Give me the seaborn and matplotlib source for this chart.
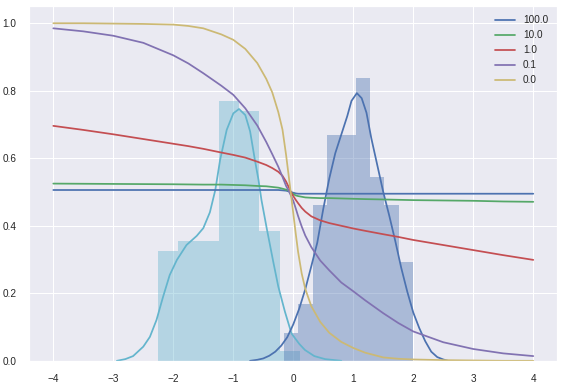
import matplotlib
matplotlib.use('Agg')
import matplotlib.pyplot as plt
import seaborn as sns

# probability curves for each C value at these x positions
x_grid = [-4, -3.5, -3, -2.5, -2, -1.75, -1.5, -1.2, -1.0, -0.8, -0.6, -0.45,
          -0.35, -0.25, -0.18, -0.12, -0.08, -0.04, 0.0, 0.04, 0.08, 0.14, 0.2,
          0.3, 0.45, 0.6, 0.8, 1.0, 1.2, 1.5, 1.75, 2.0, 2.5, 3.0, 3.5, 4.0]
p_c100 = [0.506, 0.506, 0.506, 0.506, 0.506, 0.506, 0.506, 0.506, 0.506, 0.506,
          0.506, 0.506, 0.506, 0.506, 0.505, 0.504, 0.502, 0.500, 0.498, 0.496,
          0.495, 0.495, 0.495, 0.495, 0.495, 0.495, 0.495, 0.495, 0.495, 0.495,
          0.495, 0.495, 0.495, 0.495, 0.495, 0.495]
p_c10 = [0.525, 0.5245, 0.524, 0.5235, 0.523, 0.5225, 0.522, 0.522, 0.521, 0.520,
         0.518, 0.517, 0.515, 0.513, 0.510, 0.507, 0.504, 0.500, 0.494, 0.490,
         0.488, 0.486, 0.484, 0.483, 0.482, 0.482, 0.481, 0.480, 0.479, 0.478,
         0.477, 0.476, 0.475, 0.474, 0.472, 0.471]
p_c1 = [0.696, 0.684, 0.671, 0.657, 0.643, 0.636, 0.628, 0.617, 0.610, 0.602,
        0.590, 0.580, 0.571, 0.560, 0.548, 0.531, 0.516, 0.500, 0.488, 0.477,
        0.467, 0.453, 0.442, 0.428, 0.416, 0.408, 0.400, 0.392, 0.385, 0.375,
        0.367, 0.358, 0.343, 0.328, 0.313, 0.299]
p_c01 = [0.985, 0.976, 0.963, 0.942, 0.905, 0.881, 0.852, 0.815, 0.788, 0.748,
         0.697, 0.648, 0.612, 0.575, 0.545, 0.518, 0.505, 0.490, 0.474, 0.452,
         0.429, 0.398, 0.371, 0.337, 0.297, 0.268, 0.232, 0.206, 0.179, 0.141,
         0.112, 0.087, 0.055, 0.035, 0.022, 0.014]
p_c0 = [1.0, 1.0, 0.999, 0.998, 0.996, 0.992, 0.985, 0.967, 0.951, 0.924,
        0.882, 0.835, 0.795, 0.737, 0.685, 0.610, 0.553, 0.495, 0.437, 0.378,
        0.323, 0.259, 0.213, 0.162, 0.115, 0.083, 0.056, 0.038, 0.024, 0.010,
        0.006, 0.004, 0.002, 0.001, 0.0, 0.0]
c_labels = ['100.0', '10.0', '1.0', '0.1', '0.0']

# histogram of the two classes (bin edges and counts)
neg_edges = [-2.255, -1.917, -1.579, -1.241, -0.903, -0.565, -0.227, 0.111]
neg_counts = [11, 12, 12, 26, 25, 13, 1]
pos_edges = [-0.155, 0.084, 0.323, 0.562, 0.801, 1.04, 1.279, 1.518, 1.757, 1.996]
pos_counts = [2, 4, 11, 16, 16, 20, 13, 11, 7]

# density curves
neg_kde_x = [-2.94, -2.8, -2.67, -2.5, -2.39, -2.28, -2.17, -2.06, -1.94, -1.78,
             -1.61, -1.5, -1.39, -1.3, -1.22, -1.11, -1.0, -0.905, -0.8, -0.72,
             -0.64, -0.58, -0.53, -0.44, -0.33, -0.25, -0.14, -0.03, 0.1, 0.195,
             0.35, 0.53, 0.8]
neg_kde_y = [0.0, 0.005, 0.014, 0.042, 0.071, 0.121, 0.19, 0.254, 0.299, 0.343,
             0.37, 0.393, 0.44, 0.506, 0.595, 0.684, 0.733, 0.746, 0.728, 0.68,
             0.595, 0.536, 0.476, 0.39, 0.29, 0.22, 0.146, 0.081, 0.05, 0.032,
             0.014, 0.005, 0.0]
pos_kde_x = [-0.72, -0.6, -0.5, -0.4, -0.3, -0.2, -0.1, 0.0, 0.1, 0.2, 0.3, 0.4,
             0.5, 0.6, 0.7, 0.8, 0.9, 0.97, 1.06, 1.14, 1.22, 1.3, 1.4, 1.5, 1.6,
             1.7, 1.8, 1.9, 2.0, 2.1, 2.2, 2.3, 2.4, 2.5, 2.58]
pos_kde_y = [0.0, 0.003, 0.007, 0.015, 0.027, 0.045, 0.07, 0.108, 0.155, 0.212,
             0.28, 0.35, 0.45, 0.54, 0.615, 0.67, 0.725, 0.77, 0.793, 0.778, 0.735,
             0.66, 0.58, 0.50, 0.43, 0.355, 0.275, 0.205, 0.143, 0.097, 0.058,
             0.027, 0.011, 0.004, 0.0]

# old seaborn "deep" colours
blue, green, red, purple, yellow, cyan = ('#4C72B0', '#55A868', '#C44E52',
                                          '#8172B2', '#CCB974', '#64B5CD')

sns.set_theme(style='darkgrid', rc={'xtick.labelsize': 10, 'ytick.labelsize': 10,
                                    'legend.fontsize': 10,
                                    'xtick.major.pad': 7, 'ytick.major.pad': 7,
                                    'grid.linewidth': 1.0})
plt.rcParams['font.family'] = ['Liberation Sans', 'DejaVu Sans']

fig = plt.figure(figsize=(564 / 72, 384 / 72), dpi=72)
ax = fig.add_axes([0.052, 0.0604, 0.936, 0.923])

# histograms
for edges, counts, col in [(neg_edges, neg_counts, cyan), (pos_edges, pos_counts, blue)]:
    centers = [(a + b) / 2 for a, b in zip(edges[:-1], edges[1:])]
    sns.histplot(x=centers, weights=counts, bins=edges, stat='density',
                 color=col, alpha=0.4, linewidth=0, ax=ax)

# kde lines
sns.lineplot(x=neg_kde_x, y=neg_kde_y, color=cyan, lw=1.75, ax=ax)
sns.lineplot(x=pos_kde_x, y=pos_kde_y, color=blue, lw=1.75, ax=ax)

# probability curves
for vals, col, lab in zip([p_c100, p_c10, p_c1, p_c01, p_c0],
                          [blue, green, red, purple, yellow], c_labels):
    sns.lineplot(x=x_grid, y=vals, color=col, lw=1.75, label=lab, ax=ax)

ax.set_xlim(-4.4, 4.4)
ax.set_ylim(0, 1.05)
ax.set_xticks(range(-4, 5))
ax.set_yticks([0.0, 0.2, 0.4, 0.6, 0.8, 1.0])
ax.set_xlabel('')
ax.set_ylabel('')
ax.legend(loc='upper right', frameon=False)

fig.savefig('out.png', dpi=72)
